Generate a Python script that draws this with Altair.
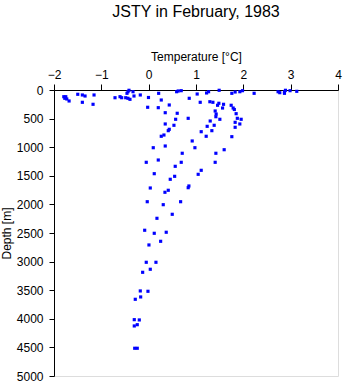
import altair as alt
import pandas as pd

# Temperature [°C] of each sample
temperature = [
    -1.793, -1.751, -1.772, -1.730, -1.681, -1.498, -1.401, -1.344, -1.401, -1.154,
    -1.175, -0.711, -0.605, -0.570, -0.485, -0.437, -0.416, -0.458, -0.331, -0.395,
    -0.437, -0.310, -0.177, -0.004, -0.021, 0.211, 0.266, 0.203, 0.435, 0.591,
    0.624, 0.688, 0.857, 1.025, 0.350, 0.603, 0.570, 0.835, 0.350, 0.534,
    0.435, 0.414, 0.323, 0.266, 0.920, 1.224, 1.266, 1.489, 1.757, 1.827,
    1.926, 1.983, 2.228, 2.734, 2.770, 2.869, 2.890, 2.869, 2.987, 3.129,
    1.089, 1.293, 1.357, 1.483, 1.456, 1.582, 1.561, 1.743, 1.785, 1.810,
    1.405, 1.426, 1.420, 1.848, 1.300, 1.504, 1.873, 1.954, 1.384, 1.236,
    1.827, 1.827, 1.926, 1.110, 1.335, 1.215, 1.757, 0.097, 0.350, 0.977,
    1.595, 1.420, 0.709, -0.051, 0.203, 0.688, 1.405, 0.561, 1.110, 1.046,
    0.118, 0.549, 0.456, 0.850, 0.835, 0.034, 0.414, 0.344, 0.675, -0.030,
    0.308, 0.498, 0.175, -0.084, 0.118, 0.371, 0.006, 0.253, -0.051, 0.154,
    0.034, -0.127, -0.177, -0.015, -0.283, -0.169, -0.304, -0.198, -0.304, -0.241,
    -0.295, -0.241,
]

# Depth [m] of each sample
depth = [
    117, 117, 145, 157, 192, 75, 87, 105, 215, 87,
    250, 135, 117, 135, 135, 30, 5, 58, 30, 163,
    145, 105, 87, 131, 302, 58, 175, 309, 262, 30,
    17, 12, 145, 70, 397, 407, 512, 495, 594, 617,
    687, 711, 787, 809, 891, 52, 30, 5, 58, 35,
    30, 12, 58, 30, 47, 30, 5, 58, 12, 23,
    215, 205, 215, 232, 267, 250, 315, 267, 315, 341,
    367, 420, 467, 414, 542, 512, 495, 512, 617, 635,
    565, 652, 594, 729, 711, 809, 816, 1009, 979, 1009,
    1044, 1106, 1106, 1264, 1224, 1264, 1264, 1334, 1404, 1474,
    1463, 1509, 1561, 1678, 1708, 1713, 1753, 1788, 1953, 1953,
    2005, 2173, 2243, 2452, 2505, 2487, 2709, 2645, 3012, 3012,
    3134, 3187, 3513, 3519, 3659, 3618, 4015, 4020, 4125, 4103,
    4515, 4515,
]

x_ticks = [-2, -1, 0, 1, 2, 3, 4]
y_ticks = [0, 500, 1000, 1500, 2000, 2500, 3000, 3500, 4000, 4500, 5000]

df = pd.DataFrame({"Temperature": temperature, "Depth": depth})

FONT = "Liberation Sans"
AX = dict(
    domainColor="black",
    tickColor="black",
    labelColor="black",
    titleColor="black",
    labelFont=FONT,
    titleFont=FONT,
    labelFontSize=12,
    titleFontSize=12,
    titleFontWeight="normal",
    labelFontWeight="normal",
    domainWidth=1,
    tickWidth=1,
    grid=False,
    labelFlush=False,
    format="d",
)

chart = (
    alt.Chart(df)
    .mark_square(size=10, color="#0000ff", opacity=1)
    .encode(
        x=alt.X(
            "Temperature:Q",
            scale=alt.Scale(domain=[-2, 4], nice=False, zero=False),
            axis=alt.Axis(
                orient="top",
                values=x_ticks,
                title="Temperature [°C]",
                tickSize=6,
                labelPadding=3,
                titlePadding=5,
                **AX,
            ),
        ),
        y=alt.Y(
            "Depth:Q",
            scale=alt.Scale(domain=[0, 5000], reverse=True, nice=False),
            axis=alt.Axis(
                values=y_ticks,
                title="Depth [m]",
                tickSize=5,
                labelPadding=6,
                titlePadding=3,
                **AX,
            ),
        ),
    )
    .properties(
        width=284,
        height=286,
        title=alt.TitleParams(
            "JSTY in February, 1983",
            font=FONT,
            fontSize=16,
            fontWeight="normal",
            color="black",
            anchor="middle",
            offset=30,
        ),
        autosize=alt.AutoSizeParams(type="none"),
        padding={"left": 54, "top": 90, "right": 7, "bottom": 8},
    )
    .configure_view(stroke=None)
    .configure(background="white")
)

chart.save("out.html", embed_options={"renderer": "svg", "actions": False})
